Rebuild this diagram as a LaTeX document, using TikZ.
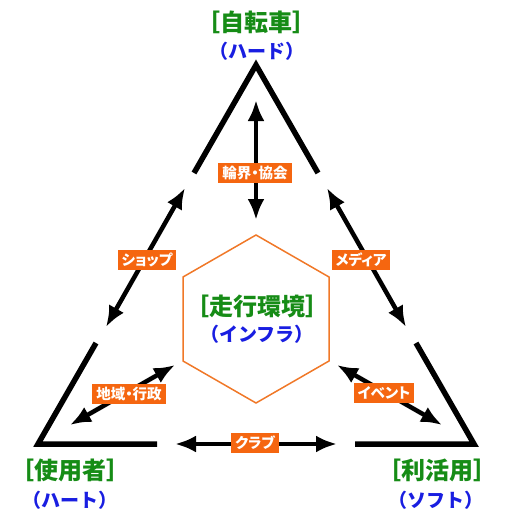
\documentclass[tikz,border=0pt]{standalone}
\usepackage{fontspec}
\usetikzlibrary{arrows.meta}
\newfontfamily\jp{Noto Sans CJK JP}
\newfontfamily\jpp[RawFeature=+palt]{Noto Sans CJK JP}
\definecolor{lorange}{RGB}{245,102,16}
\definecolor{horange}{RGB}{240,120,40}
\definecolor{tgreen}{RGB}{22,140,22}
\definecolor{tblue}{RGB}{25,30,225}
\begin{document}
\begin{tikzpicture}[x=1pt,y=-1pt,
  side/.style={line width=5.5pt},
  dbl/.style={line width=4.5pt,{Latex[length=21pt,width=17pt]}-{Latex[length=21pt,width=17pt]}},
  tag/.style={fill=lorange,text=white,font=\jpp\bfseries\fontsize{14.5}{14.5}\selectfont,inner xsep=4pt,inner ysep=0pt,minimum height=20pt},
  title/.style={text=tgreen,font=\jp\bfseries\fontsize{24}{24}\selectfont,inner sep=0pt},
  sub/.style={text=tblue,font=\jp\bfseries\fontsize{19}{19}\selectfont,inner sep=0pt},
  hexline/.style={draw=horange,line width=1.5pt}]
\useasboundingbox (0,0) rectangle (504,511);
% corner points
\coordinate (A) at (256,65);
\coordinate (A1) at (194,173);
\coordinate (A2) at (318,173);
\coordinate (B) at (38,444);
\coordinate (B1) at (96,343);
\coordinate (B2) at (157,444);
\coordinate (C) at (474,444);
\coordinate (C1) at (355,444);
\coordinate (C2) at (416,343);
% side arrows
\coordinate (L1) at (185,188);
\coordinate (L2) at (106,327);
\coordinate (R1) at (327,188);
\coordinate (R2) at (406,327);
\coordinate (D1) at (175,444);
\coordinate (D2) at (337,444);
% inner arrows
\coordinate (V1) at (256,100);
\coordinate (V2) at (256,220);
\coordinate (IL1) at (175,365);
\coordinate (IL2) at (70,425);
\coordinate (IR1) at (337,365);
\coordinate (IR2) at (442,425);
% hexagon
\coordinate (H1) at (256,235);
\coordinate (H2) at (329,277);
\coordinate (H3) at (329,361);
\coordinate (H4) at (256,403);
\coordinate (H5) at (183,361);
\coordinate (H6) at (183,277);
\draw[hexline] (H1) -- (H2) -- (H3) -- (H4) -- (H5) -- (H6) -- cycle;
% corner V shapes
\draw[side] (A1) -- (A) -- (A2);
\draw[side] (B1) -- (B) -- (B2);
\draw[side] (C1) -- (C) -- (C2);
% arrows
\draw[dbl] (L1) -- (L2);
\draw[dbl] (R1) -- (R2);
\draw[dbl] (D1) -- (D2);
\draw[dbl] (V1) -- (V2);
\draw[dbl] (IL1) -- (IL2);
\draw[dbl] (IR1) -- (IR2);
% labels
\node[tag] (t1) at (255,173) {輪界・協会};
\node[tag] (t2) at (147,260) {ショップ};
\node[tag] (t3) at (361,260) {メディア};
\node[tag] (t4) at (129,394) {地域・行政};
\node[tag] (t5) at (384,393) {イベント};
\node[tag] (t6) at (255,443) {クラブ};
% titles
\node[title] (n1) at (256,22) {［自転車］};
\node[sub] (s1) at (257,51) {（ハード）};
\node[title] (n2) at (70,470) {［使用者］};
\node[sub] (s2) at (70,500) {（ハート）};
\node[title] (n3) at (437,470) {［利活用］};
\node[sub] (s3) at (436,500) {（ソフト）};
\node[title] (n4) at (257,306) {［走行環境］};
\node[sub] (s4) at (257,334) {（インフラ）};
\end{tikzpicture}
\end{document}
